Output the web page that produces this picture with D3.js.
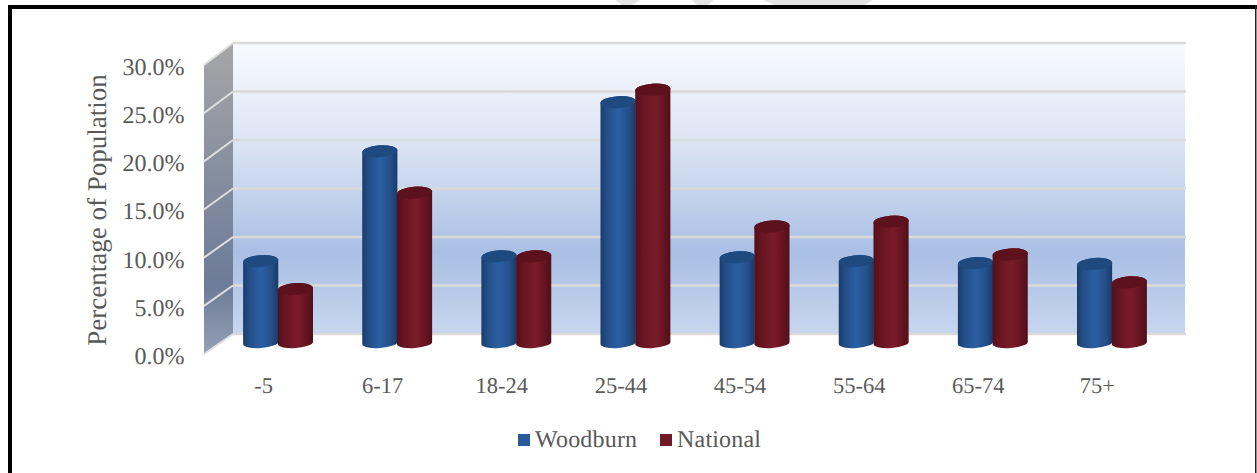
<!DOCTYPE html>
<html>
<head>
<meta charset="utf-8">
<script src="https://cdn.jsdelivr.net/npm/d3@7"></script>
<style>
  html, body { margin: 0; padding: 0; background: #fff; }
  svg { display: block; }
  text { font-family: "Liberation Serif", serif; fill: #595959; text-rendering: geometricPrecision; }
</style>
</head>
<body>
<svg id="chart" width="1257" height="473"></svg>
<script>
const categories = ["-5", "6-17", "18-24", "25-44", "45-54", "55-64", "65-74", "75+"];
const woodburn = [8.5, 19.9, 9.0, 25.0, 8.9, 8.5, 8.3, 8.2];
const national = [5.6, 15.6, 9.0, 26.3, 12.1, 12.6, 9.2, 6.3];
const yTicks = [0, 5, 10, 15, 20, 25, 30];
const seriesNames = ["Woodburn", "National"];
const seriesColors = ["#2a5a9b", "#701a26"];

const svg = d3.select("#chart");
const defs = svg.append("defs");

function linear(id, horizontal, stops) {
  const g = defs.append("linearGradient").attr("id", id)
    .attr("x1", 0).attr("y1", 0)
    .attr("x2", horizontal ? 1 : 0).attr("y2", horizontal ? 0 : 1);
  stops.forEach(([o, c]) => g.append("stop").attr("offset", o).attr("stop-color", c));
}
linear("wall", false, [[0, "#f8faff"], [0.35, "#dbe4f4"], [0.72, "#a9bfe4"], [1, "#c8d6ee"]]);
linear("side", false, [[0, "#a6a6a8"], [0.4, "#87909f"], [0.78, "#6c7b98"], [1, "#94a0b5"]]);
linear("barBlue", true, [[0, "#1b3c6c"], [0.18, "#234e87"], [0.5, "#2b5fa3"], [0.8, "#24508a"], [1, "#1a3a68"]]);
linear("barRed", true, [[0, "#53101a"], [0.2, "#661521"], [0.55, "#7b1b2a"], [0.82, "#641420"], [1, "#50101a"]]);

// Faint shapes showing through above the frame
svg.append("g").attr("fill", "#e3e3e3")
  .selectAll("path")
  .data(["M615,0H640L632,5H622Z", "M692,0H714L708,5H697Z", "M763,0H873L864,5H775Z"])
  .join("path").attr("d", d => d);

// Page frame: heavy top and left rules, light one on the right
svg.append("rect").attr("x", 8).attr("y", 5).attr("width", 1249).attr("height", 4).attr("fill", "#000");
svg.append("rect").attr("x", 8).attr("y", 5).attr("width", 4).attr("height", 468).attr("fill", "#000");
svg.append("rect").attr("x", 1255).attr("y", 5).attr("width", 1.5).attr("height", 468).attr("fill", "#222");

// Three depth planes of the plot box
const xFront = d3.scaleBand().domain(categories).range([204, 1157]).paddingInner(0).paddingOuter(0);
const yFront = d3.scaleLinear().domain([0, 30]).range([354, 65]);
const yBack = d3.scaleLinear().domain([0, 30]).range([334, 43]);
const yMid = d3.scaleLinear().domain([0, 30]).range([343, 54]);
const depthX = 29;

const xLeftBack = xFront.range()[0] + depthX;
const xRightBack = xFront.range()[1] + depthX - 1;

svg.append("rect")
  .attr("x", xLeftBack).attr("y", yBack(30))
  .attr("width", xRightBack - xLeftBack).attr("height", yBack(0) - yBack(30))
  .attr("fill", "url(#wall)");
svg.append("path")
  .attr("d", `M${xLeftBack},${yBack(30)}L${xLeftBack},${yBack(0)}L${xFront.range()[0]},${yFront(0)}L${xFront.range()[0]},${yFront(30)}Z`)
  .attr("fill", "url(#side)");

svg.append("g").selectAll("line.back").data(yTicks).join("line")
  .attr("x1", xLeftBack).attr("x2", xRightBack + 1)
  .attr("y1", yBack).attr("y2", yBack)
  .attr("stroke", "#dadad8").attr("stroke-width", 2.4);
svg.append("g").selectAll("line.side").data(yTicks).join("line")
  .attr("x1", xLeftBack).attr("x2", xFront.range()[0])
  .attr("y1", yBack).attr("y2", yFront)
  .attr("stroke", "#dedede").attr("stroke-width", 2);

// Value axis on the front plane, category axis under it
const yAxis = svg.append("g").attr("transform", "translate(184.5,0.7)")
  .call(d3.axisLeft(yFront).tickValues(yTicks).tickSize(0).tickPadding(0).tickFormat(d => d.toFixed(1) + "%"));
yAxis.select(".domain").remove();
yAxis.selectAll("text").attr("font-size", 24).attr("font-family", "Liberation Serif").attr("fill", "#595959").attr("dy", "0.36em");

const xAxis = svg.append("g").attr("transform", "translate(0,377)")
  .call(d3.axisBottom(xFront).tickSize(0).tickPadding(0));
xAxis.select(".domain").remove();
xAxis.selectAll("text").attr("font-size", 22.5).attr("font-family", "Liberation Serif").attr("fill", "#595959").attr("dy", "0.71em");

svg.append("text")
  .attr("transform", "translate(106,210) rotate(-90)")
  .attr("text-anchor", "middle")
  .attr("font-size", 27)
  .text("Percentage of Population");

// Cylinders stand halfway into the box, each pair centred in its band
const pairWidth = 69.5;
const inner = d3.scaleBand().domain(seriesNames)
  .range([0, pairWidth]);
const tilt = 1.3, ryTop = 6, ryBase = 5;

function cylinder(cx, r, yTop, yBase) {
  const l = cx - r, t = cx + r;
  return `M${l},${yTop + tilt}L${l},${yBase + tilt}` +
    `A${r},${ryBase} -4 0 0 ${t},${yBase - tilt}L${t},${yTop - tilt}` +
    `A${r},${ryTop} -4 0 0 ${l},${yTop + tilt}Z`;
}
function cap(cx, r, yTop) {
  return `M${cx - r},${yTop + tilt}A${r},${ryTop} -4 1 1 ${cx + r},${yTop - tilt}A${r},${ryTop} -4 1 1 ${cx - r},${yTop + tilt}Z`;
}

[[woodburn, "url(#barBlue)", "#1f4a80", seriesNames[0]], [national, "url(#barRed)", "#5c111c", seriesNames[1]]]
  .forEach(([values, body, top, name]) => {
    const g = svg.append("g");
    const cxOf = i => xFront(categories[i]) + xFront.bandwidth() / 2 + depthX / 2 - pairWidth / 2 + inner(name) + inner.bandwidth() / 2;
    const r = inner.bandwidth() / 2 + 0.2;
    g.selectAll("path.body").data(values).join("path")
      .attr("d", (v, i) => cylinder(cxOf(i), r, yMid(v), yMid(0)))
      .attr("fill", body);
    g.selectAll("path.cap").data(values).join("path")
      .attr("d", (v, i) => cap(cxOf(i), r, yMid(v)))
      .attr("fill", top);
  });

// Legend
const legendItems = [{ x: 518, tx: 535 }, { x: 660, tx: 677 }];
const legend = svg.append("g");
seriesNames.forEach((name, i) => {
  legend.append("rect").attr("x", legendItems[i].x).attr("y", 434)
    .attr("width", 12).attr("height", 12).attr("fill", seriesColors[i]);
  legend.append("text").attr("x", legendItems[i].tx).attr("y", 447)
    .attr("font-size", 24).attr("letter-spacing", 0.2).text(name);
});
</script>
</body>
</html>
